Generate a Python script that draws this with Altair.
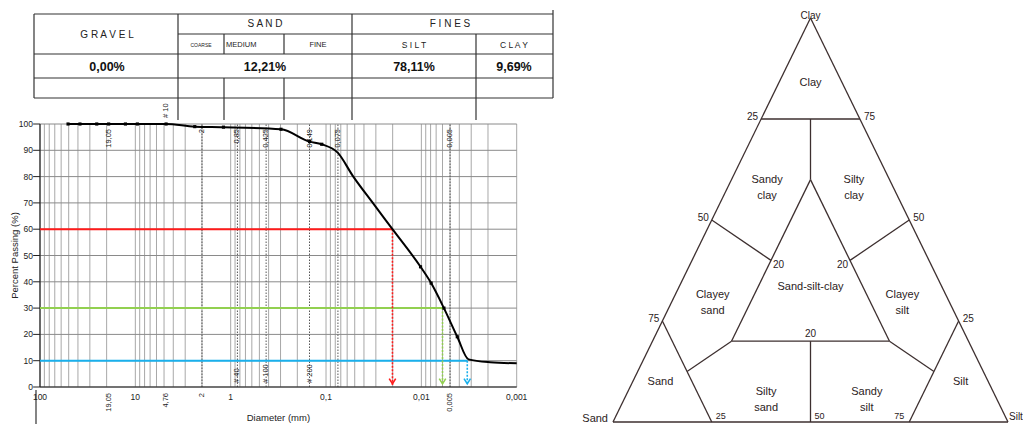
import altair as alt
import pandas as pd

FONT = "Liberation Sans"

# ---------------- grain-size curve ----------------
diam_mm = [50.8, 38.1, 25.4, 19.05, 12.7, 9.525, 4.76, 2.38, 1.19, 0.297, 0.149, 0.111,
           0.075, 0.0524, 0.0323, 0.0201, 0.0102, 0.0079, 0.0058, 0.0042, 0.0032, 0.0019, 0.001]
pct_passing = [100, 100, 100, 100, 100, 100, 100, 99.0, 98.8, 98.0, 93.3, 92.3,
               89.0, 80.3, 70.0, 60.0, 45.7, 39.5, 30.0, 19.1, 10.5, 9.4, 9.0]
has_marker = [True] * 12 + [False] * 4 + [True] * 4 + [False] * 3

# characteristic diameters D60 / D30 / D10
d_levels = [60, 30, 10]
d_values = [0.0201, 0.0060, 0.0033]
d_colors = ["#ff1a1a", "#92d050", "#1ab0ec"]

# axes / grid
y_ticks = [0, 10, 20, 30, 40, 50, 60, 70, 80, 90, 100]
grid_d = [m * 10.0 ** k for k in range(-3, 2) for m in range(1, 10)] + [100.0]
x_major = [100, 10, 1, 0.1, 0.01, 0.001]
x_major_lbl = ["100", "10", "1", "0,1", "0,01", "0,001"]
x_rot = [19.05, 4.76, 2, 0.005]
x_rot_lbl = ["19,05", "4,76", "2", "0,005"]
sieve_d = [2, 0.85, 0.425, 0.149, 0.075, 0.005]
top_lbl_d = [19.05, 2, 0.85, 0.425, 0.149, 0.075, 0.005]
top_lbl = ["19,05", "2", "0,85", "0,425", "0,149", "0,075", "0,005"]
sieve_no_d = [0.85, 0.425, 0.149]
sieve_no = ["# 40", "# 100", "# 200"]

# ---------------- summary table ----------------
head_main = ["G R A V E L", "S A N D", "F I N E S"]
head_sub = ["COARSE", "MEDIUM", "FINE", "S I L T", "C L A Y"]
fractions = ["0,00%", "12,21%", "78,11%", "9,69%"]

# ---------------- Shepard ternary diagram (sand, silt, clay %) ----------------
tern_segments = [
    ((100, 0, 0), (0, 100, 0)), ((0, 100, 0), (0, 0, 100)), ((0, 0, 100), (100, 0, 0)),
    ((25, 0, 75), (0, 25, 75)), ((12.5, 12.5, 75), (20, 20, 60)),
    ((20, 20, 60), (60, 20, 20)), ((60, 20, 20), (20, 60, 20)), ((20, 60, 20), (20, 20, 60)),
    ((50, 0, 50), (40, 20, 40)), ((0, 50, 50), (20, 40, 40)), ((50, 50, 0), (40, 40, 20)),
    ((75, 0, 25), (75, 25, 0)), ((25, 75, 0), (0, 75, 25)),
    ((60, 20, 20), (75, 12.5, 12.5)), ((20, 60, 20), (12.5, 75, 12.5)),
]
region_names = ["Clay", "Sandy\nclay", "Silty\nclay", "Clayey\nsand", "Sand-silt-clay",
                "Clayey\nsilt", "Sand", "Silty\nsand", "Sandy\nsilt", "Silt"]
region_pos = [(8, 8, 84), (31, 9, 60), (9, 31, 60), (59, 9.5, 31.5), (33.3, 33.3, 33.4),
              (11, 57.5, 31.5), (83, 7, 10), (57.5, 35, 7.5), (32, 60.5, 7.5), (7, 83, 10)]
left_ticks = ["25", "50", "75"]
left_ticks_pos = [(25, 0, 75), (50, 0, 50), (75, 0, 25)]
right_ticks = ["75", "50", "25"]
right_ticks_pos = [(0, 25, 75), (0, 50, 50), (0, 75, 25)]
bottom_ticks = ["25", "50", "75"]
bottom_ticks_pos = [(75, 25, 0), (50, 50, 0), (25, 75, 0)]


def tern_xy(c):
    sand, silt, clay = c
    return silt + clay / 2.0, clay


# ======================= scales =======================
PX = alt.Scale(type="log", domain=[0.001, 100], range=[508.7, 32], nice=False)
PY = alt.Scale(domain=[0, 100], range=[379, 116], nice=False, zero=False)
TX = alt.Scale(domain=[0, 100], range=[605, 1000], nice=False, zero=False)
TY = alt.Scale(domain=[0, 100], range=[414, 10], nice=False, zero=False)
# page-pixel layout scale for the table decoration
LX = alt.Scale(domain=[8, 1023], range=[0, 1015], nice=False, zero=False)
LY = alt.Scale(domain=[8, 424], range=[0, 416], nice=False, zero=False)


def px(f):
    return alt.X(f, type="quantitative", scale=PX, axis=None)


def py(f):
    return alt.Y(f, type="quantitative", scale=PY, axis=None)


def txt(**kw):
    kw.setdefault("font", FONT)
    return kw

# ======================= grain size plot =======================
curve = pd.DataFrame({"d": diam_mm, "p": pct_passing, "m": has_marker})
hgrid = pd.DataFrame({"y": y_ticks, "a": 100.0, "b": 0.001})
vgrid = pd.DataFrame({"d": grid_d, "y0": 0, "y1": 100})
dl = pd.DataFrame({"lvl": d_levels, "d": d_values, "c": d_colors, "start": 100.0,
                   "tip": 0.8, "head": 2.2})

plot_layers = [
    alt.Chart(vgrid).mark_rule(color="#a8a8a8", strokeWidth=1).encode(
        x=px("d"), y=py("y0"), y2="y1"),
    alt.Chart(hgrid).mark_rule(color="#8a8a8a", strokeWidth=1).encode(
        x=px("a"), x2="b", y=py("y")),
    alt.Chart(pd.DataFrame({"d": sieve_d, "y0": 0, "y1": 100})).mark_rule(
        color="#555", strokeWidth=1, strokeDash=[1.5, 1.5]).encode(x=px("d"), y=py("y0"), y2="y1"),
    # axis lines
    alt.Chart(pd.DataFrame({"a": [100.0], "b": [0.001], "y": [0]})).mark_rule(
        color="#222", strokeWidth=1.2).encode(x=px("a"), x2="b", y=py("y")),
    alt.Chart(pd.DataFrame({"d": [100.0], "y0": [0], "y1": [100]})).mark_rule(
        color="#222", strokeWidth=1.2).encode(x=px("d"), y=py("y0"), y2="y1"),
    # y ticks
    alt.Chart(pd.DataFrame({"a": 100.0, "b": 118.0, "y": y_ticks})).mark_rule(
        color="#222", strokeWidth=1).encode(x=px("a"), x2="b", y=py("y")),
    # D60 / D30 / D10 lines
    alt.Chart(dl).mark_rule(strokeWidth=2).encode(
        x=px("start"), x2="d", y=py("lvl"), color=alt.Color("c:N", scale=None)),
    alt.Chart(dl).mark_rule(strokeWidth=1.6, strokeDash=[2, 1.5]).encode(
        x=px("d"), y=py("lvl"), y2="tip", color=alt.Color("c:N", scale=None)),
    alt.Chart(dl).mark_point(shape="M-1,-0.8L0,0.8L1,-0.8", filled=False, size=42,
                             strokeWidth=1.6, opacity=1).encode(
        x=px("d"), y=py("head"), color=alt.Color("c:N", scale=None)),
    # curve
    alt.Chart(curve).mark_line(color="black", strokeWidth=2, interpolate="monotone").encode(
        x=px("d"), y=py("p")),
    alt.Chart(curve).transform_filter("datum.m").mark_point(
        shape="square", filled=True, size=10, color="black", opacity=1).encode(x=px("d"), y=py("p")),
    # labels
    alt.Chart(pd.DataFrame({"x": 100.0, "y": y_ticks, "t": [str(v) for v in y_ticks]})).mark_text(
        **txt(align="right", baseline="middle", dx=-7, fontSize=8.5, color="#222")).encode(
        x=px("x"), y=py("y"), text="t:N"),
    alt.Chart(pd.DataFrame({"d": x_major, "y": 0, "t": x_major_lbl})).mark_text(
        **txt(align="center", baseline="top", dy=6, fontSize=8.5, color="#222")).encode(
        x=px("d"), y=py("y"), text="t:N"),
    alt.Chart(pd.DataFrame({"d": x_rot, "y": 0, "t": x_rot_lbl})).mark_text(
        **txt(angle=270, align="right", baseline="middle", dx=-6, fontSize=7.5, color="#222")).encode(
        x=px("d"), y=py("y"), text="t:N"),
    alt.Chart(pd.DataFrame({"d": top_lbl_d, "y": 100, "t": top_lbl})).mark_text(
        **txt(angle=270, align="right", baseline="middle", dx=-5, fontSize=7.5, color="#222")).encode(
        x=px("d"), y=py("y"), text="t:N"),
    alt.Chart(pd.DataFrame({"d": sieve_no_d, "y": 0, "t": sieve_no})).mark_text(
        **txt(angle=270, align="left", baseline="middle", dx=4, fontSize=7.5, color="#222")).encode(
        x=px("d"), y=py("y"), text="t:N"),
    alt.Chart(pd.DataFrame({"d": [4.76], "y": [100], "t": ["# 10"]})).mark_text(
        **txt(angle=270, align="left", baseline="middle", dx=6, fontSize=7.5, color="#222")).encode(
        x=px("d"), y=py("y"), text="t:N"),
    alt.Chart(pd.DataFrame({"d": [0.316], "y": [0], "t": ["Diameter (mm)"]})).mark_text(
        **txt(align="center", baseline="middle", dy=31, fontSize=9.5, color="#222")).encode(
        x=px("d"), y=py("y"), text="t:N"),
    alt.Chart(pd.DataFrame({"d": [100.0], "y": [50], "t": ["Percent Passing (%)"]})).mark_text(
        **txt(angle=270, align="center", baseline="middle", dy=-25, fontSize=9.5, color="#222")).encode(
        x=px("d"), y=py("y"), text="t:N"),
]
plot = alt.layer(*plot_layers)

# ======================= table (layout in page pixels) =======================
H_LINES = [(34, 553, 14), (178, 553, 34), (34, 553, 54), (34, 553, 78), (34, 553, 98)]
V_LINES = [(34, 14, 98), (178, 14, 120), (352, 14, 120), (553, 10, 98),
           (224, 34, 54), (284, 34, 54), (476, 34, 78),
           (224, 78, 120), (284, 78, 120), (476, 78, 120), (36, 390, 440)]
tl = pd.DataFrame(
    [{"x": a, "x2": b, "y": y, "y2": y} for a, b, y in H_LINES]
    + [{"x": x, "x2": x, "y": a, "y2": b} for x, a, b in V_LINES])


def lx(f):
    return alt.X(f, type="quantitative", scale=LX, axis=None)


def ly(f):
    return alt.Y(f, type="quantitative", scale=LY, axis=None)


head_df = pd.DataFrame({"t": head_main, "x": [107, 265, 450], "y": [35, 24, 24]})
sub_df = pd.DataFrame({"t": [head_sub[0], head_sub[2], head_sub[3], head_sub[4]],
                       "x": [201, 318, 414, 514], "y": [45, 45, 45, 45],
                       "s": [5, 7.5, 8.5, 8.5]})
frac_df = pd.DataFrame({"t": fractions, "x": [107, 265, 414, 514], "y": [67, 67, 67, 67]})

table_layers = [
    alt.Chart(tl).mark_rule(color="#333", strokeWidth=1.2).encode(
        x=lx("x"), x2="x2", y=ly("y"), y2="y2"),
    alt.Chart(head_df).mark_text(**txt(fontSize=10, color="#222", baseline="middle")).encode(
        x=lx("x"), y=ly("y"), text="t:N"),
    alt.Chart(sub_df).mark_text(**txt(color="#222", baseline="middle")).encode(
        x=lx("x"), y=ly("y"), text="t:N", size=alt.Size("s:Q", scale=None)),
    alt.Chart(pd.DataFrame({"t": [head_sub[1]], "x": [226], "y": [45]})).mark_text(
        **txt(fontSize=7.5, color="#222", align="left", baseline="middle")).encode(
        x=lx("x"), y=ly("y"), text="t:N"),
    alt.Chart(frac_df).mark_text(**txt(fontSize=12.5, fontWeight="bold", color="#111",
                                       baseline="middle")).encode(
        x=lx("x"), y=ly("y"), text="t:N"),
]
table = alt.layer(*table_layers)

# ======================= ternary diagram =======================
seg_rows = []
for a, b in tern_segments:
    x1, y1 = tern_xy(a)
    x2, y2 = tern_xy(b)
    seg_rows.append({"x": x1, "y": y1, "x2": x2, "y2": y2})
seg = pd.DataFrame(seg_rows)


def pts(names, comps):
    xs, ys = zip(*[tern_xy(c) for c in comps])
    return pd.DataFrame({"t": names, "x": xs, "y": ys})


def tx(f):
    return alt.X(f, type="quantitative", scale=TX, axis=None)


def ty(f):
    return alt.Y(f, type="quantitative", scale=TY, axis=None)


TCOL = "#2b2222"


def tlabel(df, **kw):
    kw.setdefault("fontSize", 10)
    kw.setdefault("baseline", "middle")
    return alt.Chart(df).mark_text(**txt(color=TCOL, **kw)).encode(
        x=tx("x"), y=ty("y"), text="t:N")


tern_layers = [
    alt.Chart(seg).mark_rule(color="#3d2f2f", strokeWidth=1.3).encode(
        x=tx("x"), x2="x2", y=ty("y"), y2="y2"),
    tlabel(pts(region_names, region_pos), fontSize=11, lineBreak="\n", lineHeight=16),
    tlabel(pts(["Clay"], [(0, 0, 100)]), fontSize=10, dy=-2.5),
    tlabel(pts(["Sand"], [(100, 0, 0)]), fontSize=11, align="right", dx=-5, dy=-3),
    tlabel(pts(["Silt"], [(0, 100, 0)]), fontSize=10, align="left", dx=1, dy=-5),
    tlabel(pts(left_ticks, left_ticks_pos), align="right", dx=-3, dy=-2),
    tlabel(pts(right_ticks, right_ticks_pos), align="left", dx=4, dy=-2),
    tlabel(pts(bottom_ticks[:2], bottom_ticks_pos[:2]), align="left", fontSize=9, dx=4, dy=-6),
    tlabel(pts(bottom_ticks[2:], bottom_ticks_pos[2:]), align="right", fontSize=9, dx=-5, dy=-6),
    tlabel(pts(["20"], [(40, 20, 40)]), align="left", dx=2, dy=5),
    tlabel(pts(["20"], [(20, 40, 40)]), align="right", dx=-2, dy=5),
    tlabel(pts(["20"], [(40, 40, 20)]), align="center", dy=-7),
]
tern = alt.layer(*tern_layers)

chart = (
    alt.layer(table, plot, tern)
    .resolve_scale(x="independent", y="independent")
    .properties(width=1015, height=416, padding=0,
                autosize=alt.AutoSizeParams(type="none"))
    .configure(font=FONT)
    .configure_view(stroke=None)
)

chart.save("out.html", embed_options={"renderer": "svg", "actions": False})
